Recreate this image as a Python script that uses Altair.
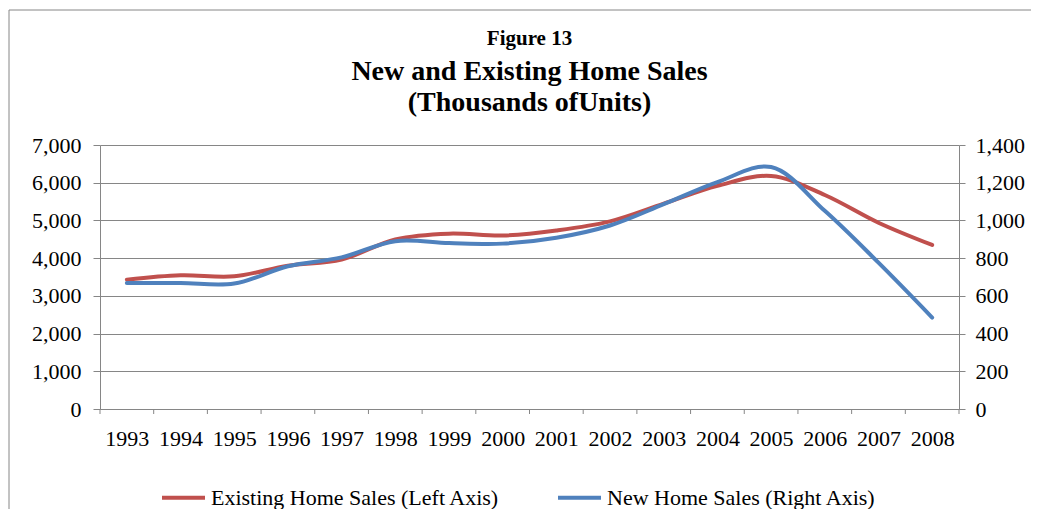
import json
import altair as alt
import pandas as pd

# ---- data ----
years = list(range(1993, 2009))
existing_sales = [3430, 3545, 3520, 3800, 3965, 4495, 4650, 4600,
                  4735, 4975, 5445, 5915, 6180, 5675, 4940, 4350]   # left axis
new_sales = [668, 668, 665, 757, 804, 890, 880, 877,
             908, 973, 1086, 1203, 1283, 1051, 776, 485]            # right axis
left_ticks = [0, 1000, 2000, 3000, 4000, 5000, 6000, 7000]
right_ticks = [0, 200, 400, 600, 800, 1000, 1200, 1400]
series_names = ["Existing Home Sales (Left Axis)", "New Home Sales (Right Axis)"]
series_colors = ["#C0504D", "#4F81BD"]

tick_edges = [y - 0.5 for y in years] + [years[-1] + 0.5]

df = pd.DataFrame({"year": years, "existing": existing_sales, "new": new_sales})
edges = pd.DataFrame({"edge": tick_edges})

FONT = "Liberation Serif"
GRAY = "#868686"
W, H = 859, 264

xscale = alt.Scale(domain=[tick_edges[0], tick_edges[-1]], nice=False, zero=False)
color_scale = alt.Scale(domain=series_names, range=series_colors)

x_axis = alt.Axis(values=years, format="d", ticks=False, grid=False, title=None,
                  labelFont=FONT, labelFontSize=22, labelColor="black",
                  labelPadding=19, domainColor=GRAY, labelFlush=False)

legend = alt.Legend(orient="none", legendX=60, legendY=329, direction="horizontal",
                    title=None, symbolType="stroke", symbolSize=1849,
                    symbolStrokeWidth=4, labelFont=FONT, labelFontSize=22,
                    labelColor="black", columnPadding=50, labelOffset=4,
                    padding=0, labelLimit=400)

# chart frame: top and left edges (the right and bottom lie outside the picture)
frame_df = pd.DataFrame({"a": [0]})
frame_top = alt.Chart(frame_df).mark_rule(color=GRAY, strokeWidth=1).encode(
    x=alt.value(-91), x2=alt.value(940), y=alt.value(-135))
frame_left = alt.Chart(frame_df).mark_rule(color=GRAY, strokeWidth=1).encode(
    x=alt.value(-91), y=alt.value(-135), y2=alt.value(372))

xticks = alt.Chart(edges).mark_rule(color=GRAY, strokeWidth=1).encode(
    x=alt.X("edge:Q", scale=xscale, title=None),
    y=alt.value(H), y2=alt.value(H + 5)
)

existing_line = alt.Chart(df).transform_calculate(
    series=json.dumps(series_names[0])
).mark_line(
    interpolate="catmull-rom", strokeWidth=4, strokeCap="round"
).encode(
    x=alt.X("year:Q", scale=xscale, axis=x_axis),
    y=alt.Y("existing:Q", scale=alt.Scale(domain=[0, 7000], nice=False),
            axis=alt.Axis(orient="left", values=left_ticks, format=",.0f", title=None,
                          grid=True, gridColor=GRAY, gridWidth=1,
                          tickSize=7, tickColor=GRAY, domainColor=GRAY,
                          labelFont=FONT, labelFontSize=22, labelColor="black",
                          labelPadding=12)),
    color=alt.Color("series:N", scale=color_scale, legend=legend),
)

new_line = alt.Chart(df).transform_calculate(
    series=json.dumps(series_names[1])
).mark_line(
    interpolate="catmull-rom", strokeWidth=4, strokeCap="round"
).encode(
    x=alt.X("year:Q", scale=xscale, axis=x_axis),
    y=alt.Y("new:Q", scale=alt.Scale(domain=[0, 1400], nice=False),
            axis=alt.Axis(orient="right", values=right_ticks, format=",.0f", title=None,
                          grid=False, tickSize=6, tickColor=GRAY, domainColor=GRAY,
                          labelFont=FONT, labelFontSize=22, labelColor="black",
                          labelPadding=10)),
    color=alt.Color("series:N", scale=color_scale, legend=legend),
)

chart = alt.layer(frame_top, frame_left, xticks, existing_line, new_line).resolve_scale(
    y="independent"
).properties(
    width=W, height=H,
    padding={"left": 92, "top": 137, "right": 72, "bottom": 100},
    autosize=alt.AutoSizeParams(type="none"),
    title=alt.TitleParams(
        text="Figure 13",
        subtitle=["New and Existing Home Sales", "(Thousands ofUnits)"],
        font=FONT, fontSize=21, fontWeight="bold", color="black",
        subtitleFont=FONT, subtitleFontSize=28, subtitleFontWeight="bold",
        subtitleColor="black", subtitleLineHeight=31, subtitlePadding=9,
        anchor="middle", offset=-107,
    ),
).configure_view(stroke=None)

chart.save("out.html", embed_options={"renderer": "svg", "actions": False})
